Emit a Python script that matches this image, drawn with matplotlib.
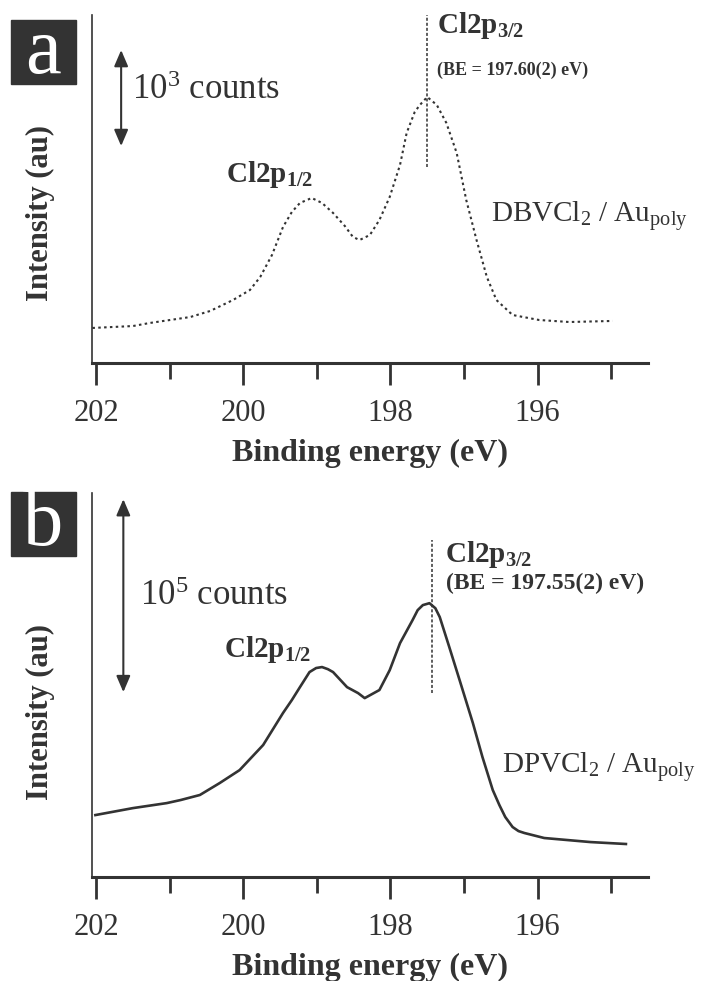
import matplotlib
matplotlib.use("Agg")
import matplotlib.pyplot as plt
from matplotlib.patches import Rectangle

plt.rcParams['font.family'] = ['Liberation Serif', 'DejaVu Serif']
plt.rcParams['mathtext.fontset'] = 'custom'
plt.rcParams['mathtext.rm'] = 'Liberation Serif'
plt.rcParams['mathtext.it'] = 'Liberation Serif:italic'
plt.rcParams['mathtext.bf'] = 'Liberation Serif:bold'

GRIS = '#333333'
W, H = 709, 981

# Panel a : DBVCl2 / Au poly (cuentas, ventana 0-3625)
energia_a = [202.05, 201.50, 201.27, 200.72, 200.45, 200.14, 199.91, 199.77, 199.61,
             199.46, 199.34, 199.23, 199.07, 198.93, 198.78, 198.62, 198.51, 198.42,
             198.28, 198.15, 198.01, 197.87, 197.78, 197.67, 197.60, 197.50, 197.37,
             197.24, 197.10, 196.97, 196.83, 196.69, 196.56, 196.34, 195.98, 195.57,
             194.98]
cuentas_a = [365, 385, 417, 479, 542, 656, 760, 896, 1125,
             1417, 1573, 1667, 1719, 1667, 1563, 1427, 1313, 1281,
             1333, 1490, 1730, 2063, 2396, 2615, 2688, 2771, 2688,
             2500, 2188, 1698, 1281, 896, 656, 500, 448, 427,
             438]

# Panel b : DPVCl2 / Au poly (cuentas, ventana 0-199000)
energia_b = [202.01, 201.50, 201.04, 200.85, 200.59, 200.32, 200.05, 199.73, 199.46,
             199.34, 199.23, 199.10, 199.01, 198.93, 198.85, 198.78, 198.59, 198.44,
             198.35, 198.15, 198.01, 197.87, 197.70, 197.63, 197.56, 197.47,
             197.39, 197.33, 197.20, 197.06, 196.88, 196.75, 196.61, 196.52, 196.44,
             196.34, 196.26, 196.18, 195.91, 195.28, 194.80]
cuentas_b = [32100, 35700, 38300, 39900, 42500, 48700, 55400, 68400, 85000,
             91700, 98400, 106200, 108300, 108800, 107700, 106200, 98400, 95300,
             92700, 96900, 107200, 121200, 133100, 138300, 140900, 141900,
             139300, 134700, 119100, 102000, 79800, 62200, 45100, 37300, 31100,
             25900, 23800, 22800, 20200, 18100, 17100]

ticks_mayores = [202, 200, 198, 196]
ticks_menores = [201, 199, 197, 195]

fig = plt.figure(figsize=(W / 100, H / 100), dpi=100)
ax_a = fig.add_axes([91.7 / W, 1 - 363 / H, 556.3 / W, 348 / H])
ax_b = fig.add_axes([91.7 / W, 1 - 877 / H, 556.3 / W, 384 / H])


def estilo(ax, ylim):
    ax.set_xlim(202.06, 194.5)
    ax.set_ylim(*ylim)
    for s in ['top', 'right']:
        ax.spines[s].set_visible(False)
    ax.spines['bottom'].set_linewidth(2.2)
    ax.spines['left'].set_linewidth(1.2)
    ax.spines['bottom'].set_color(GRIS)
    ax.spines['left'].set_color(GRIS)
    ax.set_yticks([])
    ax.set_xticks(ticks_mayores)
    ax.set_xticks(ticks_menores, minor=True)
    ax.tick_params(axis='x', which='major', length=16, width=2.0, color=GRIS,
                   labelsize=22, labelcolor=GRIS, pad=10)
    ax.tick_params(axis='x', which='minor', length=11.5, width=2.0, color=GRIS)
    ax.set_xlabel("Binding energy (eV)", fontsize=23, fontweight='bold',
                  color=GRIS, labelpad=8)


estilo(ax_a, (0, 3625))
estilo(ax_b, (0, 199000))

# curvas
ax_a.plot(energia_a, cuentas_a, color=GRIS, lw=1.5, linestyle=(0, (1.2, 1.6)))
ax_b.plot(energia_b, cuentas_b, color=GRIS, lw=1.9)

# lineas de pico
ax_a.plot([197.5, 197.5], [2042, 3625], color=GRIS, lw=1.1,
          linestyle=(0, (2, 1.3)), clip_on=False)
ax_b.plot([197.44, 197.44], [95300, 174570], color=GRIS, lw=1.1,
          linestyle=(0, (2, 1.3)), clip_on=False)

# barras de escala
flecha = dict(arrowstyle='<|-|>,head_length=0.7,head_width=0.3', color=GRIS,
              lw=1.5, shrinkA=0, shrinkB=0, mutation_scale=14)
ax_a.annotate('', xy=(201.66, 2260), xytext=(201.66, 3260), arrowprops=flecha)
ax_b.annotate('', xy=(201.63, 95800), xytext=(201.63, 195800), arrowprops=flecha)

ax_a.text(201.51, 2751, r"10$^3$ counts", fontsize=25, color=GRIS, va='baseline')
ax_b.text(201.40, 140900, r"10$^5$ counts", fontsize=25, color=GRIS, va='baseline')

# etiquetas de picos
ax_a.text(199.64, 1886, r"Cl2p$_{\mathbf{1/2}}$", fontsize=21, fontweight='bold',
          color=GRIS, ha='center', va='baseline')
ax_a.text(197.37, 3439, r"Cl2p$_{\mathbf{3/2}}$", fontsize=21, fontweight='bold',
          color=GRIS, va='baseline', clip_on=False)
ax_a.text(197.37, 3053, "(BE = 197.60(2) eV)", fontsize=13, fontweight='bold',
          color=GRIS, va='center')
ax_a.text(196.63, 1469, r"DBVCl$_2$ / Au$_{\mathrm{poly}}$", fontsize=21,
          color=GRIS, va='baseline')

ax_b.text(199.67, 113960, r"Cl2p$_{\mathbf{1/2}}$", fontsize=21, fontweight='bold',
          color=GRIS, ha='center', va='baseline')
ax_b.text(197.26, 163170, r"Cl2p$_{\mathbf{3/2}}$", fontsize=21, fontweight='bold',
          color=GRIS, va='baseline')
ax_b.text(197.24, 152290, "(BE = 197.55(2) eV)", fontsize=17, fontweight='bold',
          color=GRIS, va='center')
ax_b.text(196.49, 53870, r"DPVCl$_2$ / Au$_{\mathrm{poly}}$", fontsize=21,
          color=GRIS, va='baseline', clip_on=False)

# ejes Y
for yc in [213, 712]:
    fig.text(40 / W, 1 - yc / H, "Intensity (au)", rotation=90, fontsize=22,
             fontweight='bold', color=GRIS, ha='center', va='center')

# letras de panel
for letra, top in [('a', 20), ('b', 492)]:
    fig.patches.append(Rectangle((11 / W, 1 - (top + 64) / H), 65 / W, 64 / H,
                                 transform=fig.transFigure, color=GRIS))
    fig.text(43.5 / W, 1 - (top + 34) / H, letra, fontsize=58, color='white',
             ha='center', va='center')

plt.savefig("out.png", dpi=100)
plt.close()
